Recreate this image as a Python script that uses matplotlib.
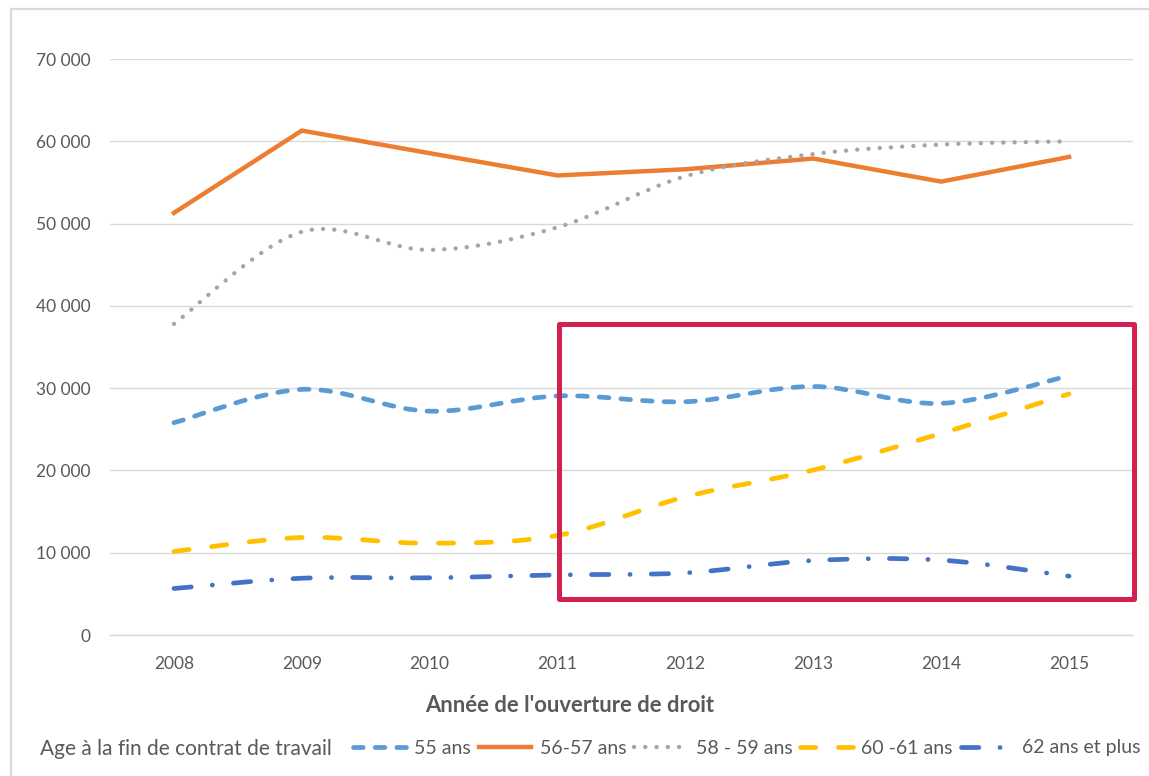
import numpy as np
import matplotlib
matplotlib.use('Agg')
import matplotlib.pyplot as plt
from matplotlib.path import Path
from matplotlib.patches import PathPatch, Rectangle
from matplotlib.lines import Line2D
from matplotlib.ticker import FuncFormatter

# data
years = ['2008', '2009', '2010', '2011', '2012', '2013', '2014', '2015']
ans_55 = [25800, 29850, 27200, 29050, 28350, 30200, 28150, 31500]
ans_56_57 = [51300, 61300, 58550, 55850, 56600, 57900, 55100, 58100]
ans_58_59 = [37800, 49000, 46800, 49550, 55750, 58450, 59600, 60000]
ans_60_61 = [10150, 11850, 11150, 12100, 16800, 20050, 24500, 29300]
ans_62_plus = [5650, 6900, 6950, 7300, 7550, 9050, 9100, 7150]

labels = ['55 ans', '56-57 ans', '58 - 59 ans', '60 -61 ans', '62 ans et plus']

plt.rcParams['font.family'] = ['Lato', 'DejaVu Sans']
plt.rcParams['lines.scale_dashes'] = False

W, H = 1149, 776
TXT = '#595959'
GRID = '#d9d9d9'


def smooth_path(x, y):
    # excel-like "smoothed line": bezier segments through the data points
    pts = np.column_stack([x, y]).astype(float)
    n = len(pts)
    verts = [pts[0]]
    codes = [Path.MOVETO]
    for i in range(n - 1):
        p0 = pts[max(i - 1, 0)]
        p1 = pts[i]
        p2 = pts[i + 1]
        p3 = pts[min(i + 2, n - 1)]
        verts += [p1 + (p2 - p0) / 6, p2 - (p3 - p1) / 6, p2]
        codes += [Path.CURVE4] * 3
    return Path(verts, codes)


fig = plt.figure(figsize=(W / 100, H / 100), dpi=100)
ax = fig.add_axes([110 / W, 1 - 635 / H, (1133 - 110) / W, (635 - 59) / H])

x = np.arange(len(years))

# values, colour, dash pattern (points), line width, smoothed?
series = [
    (ans_55, '#5B9BD5', (0, (7.0, 8.6)), 3.4, True),
    (ans_56_57, '#ED7D31', '-', 3.2, False),
    (ans_58_59, '#A5A5A5', (0, (0.1, 8.0)), 3.1, True),
    (ans_60_61, '#FFC000', (0, (11.0, 16.3)), 3.4, True),
    (ans_62_plus, '#4472C4', (0, (12.5, 15.2, 0.1, 15.2)), 3.4, True),
]

handles = []
for vals, col, ls, lw, smooth in series:
    if smooth:
        patch = PathPatch(smooth_path(x, vals), fill=False, edgecolor=col,
                          lw=lw, linestyle=ls, capstyle='round',
                          joinstyle='round', zorder=3)
        ax.add_patch(patch)
    else:
        ax.plot(x, vals, color=col, lw=lw, solid_joinstyle='round', zorder=3)
    handles.append(Line2D([], [], color=col, lw=lw, linestyle=ls,
                          dash_capstyle='round'))

ax.set_xlim(-0.5, len(years) - 0.5)
ax.set_ylim(0, 70000)
ax.set_xticks(x)
ax.set_xticklabels(years)
ax.set_yticks(np.arange(0, 70001, 10000))
ax.yaxis.set_major_formatter(FuncFormatter(lambda v, p: f'{int(v):,}'.replace(',', ' ')))
ax.tick_params(length=0, labelsize=12.5, labelcolor=TXT)
ax.tick_params(axis='y', pad=14)
ax.tick_params(axis='x', pad=15)
ax.grid(axis='y', color=GRID, lw=1)
ax.set_axisbelow(True)
for s in ['top', 'right', 'left']:
    ax.spines[s].set_visible(False)
ax.spines['bottom'].set_color(GRID)
ax.spines['bottom'].set_linewidth(1)

fig.text(570 / W, 1 - 706 / H, "Année de l'ouverture de droit", ha='center',
         va='center', fontsize=15.8, fontweight='bold', color=TXT)

# legend
fig.text(40 / W, 1 - 749 / H, 'Age à la fin de contrat de travail',
         ha='left', va='center', fontsize=15, color=TXT)
fig.legend(handles, labels, loc='center left',
           bbox_to_anchor=(353 / W, 1 - 748 / H), ncol=5, frameon=False,
           fontsize=14, labelcolor=TXT, handlelength=2.7, handletextpad=0.45,
           columnspacing=0.4, borderpad=0, borderaxespad=0)

# highlight box
fig.patches.append(Rectangle((558.5 / W, 1 - 599 / H), (1134.5 - 558.5) / W,
                             (599 - 323.5) / H, transform=fig.transFigure,
                             fill=False, edgecolor='#D2214F', lw=3.6,
                             joinstyle='round', zorder=5))

# chart area border
fig.add_artist(Line2D([11 / W, 11 / W], [0, 1 - 9 / H], transform=fig.transFigure,
                      color=GRID, lw=1.6))
fig.add_artist(Line2D([11 / W, 1], [1 - 9 / H, 1 - 9 / H], transform=fig.transFigure,
                      color=GRID, lw=1.6))

fig.savefig('out.png', dpi=100)
